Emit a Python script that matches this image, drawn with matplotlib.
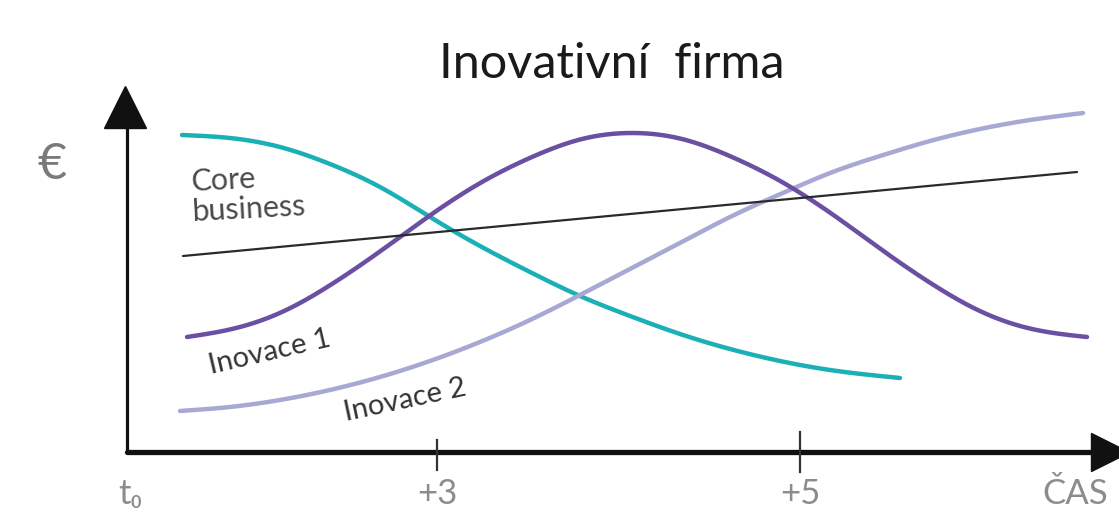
import numpy as np
import matplotlib
matplotlib.use("Agg")
import matplotlib.pyplot as plt

# values (time units along x, money units along y)
teal_x = [0.52, 1.0, 1.5, 2.0, 2.5, 3.05, 3.5, 4.0, 4.5, 5.0, 5.5, 6.0, 6.5, 7.0, 7.7]
teal_y = [3.17, 3.14, 3.05, 2.88, 2.65, 2.32, 2.06, 1.80, 1.56, 1.36, 1.18, 1.03, 0.91, 0.82, 0.74]

inov1_x = [0.57, 1.02, 1.52, 2.02, 2.52, 3.02, 3.52, 4.02, 4.52, 5.02,
           5.52, 6.02, 6.52, 7.02, 7.52, 8.02, 8.52, 9.02, 9.57]
inov1_y = [1.15, 1.23, 1.40, 1.68, 2.02, 2.38, 2.70, 2.95, 3.13, 3.19,
           3.13, 2.95, 2.70, 2.38, 2.02, 1.68, 1.40, 1.23, 1.15]

inov2_x = [0.5, 1.0, 1.5, 2.0, 2.5, 3.0, 3.5, 4.0, 4.5, 5.0, 5.5, 6.0,
           6.62, 7.0, 7.5, 8.0, 8.5, 9.0, 9.53]
inov2_y = [0.41, 0.45, 0.52, 0.62, 0.75, 0.91, 1.10, 1.32, 1.57, 1.83, 2.09, 2.35,
           2.63, 2.79, 2.96, 3.11, 3.23, 3.32, 3.39]

core_x = [0.53, 9.47]
core_y = [1.96, 2.80]

tick_pos = [0.0, 3.07, 6.70, 9.45]
tick_labels = ["t₀", "+3", "+5", "ČAS"]


def spline(xs, ys, n=400):
    # natural cubic spline through the read points
    x = np.asarray(xs, float)
    y = np.asarray(ys, float)
    h = np.diff(x)
    m = len(x)
    A = np.zeros((m, m))
    b = np.zeros(m)
    A[0, 0] = A[-1, -1] = 1
    for i in range(1, m - 1):
        A[i, i - 1] = h[i - 1]
        A[i, i] = 2 * (h[i - 1] + h[i])
        A[i, i + 1] = h[i]
        b[i] = 3 * ((y[i + 1] - y[i]) / h[i] - (y[i] - y[i - 1]) / h[i - 1])
    c = np.linalg.solve(A, b)
    xx = np.linspace(x[0], x[-1], n)
    idx = np.clip(np.searchsorted(x, xx) - 1, 0, m - 2)
    dx = xx - x[idx]
    bb = (y[1:] - y[:-1]) / h - h * (2 * c[:-1] + c[1:]) / 3
    d = (c[1:] - c[:-1]) / (3 * h)
    yy = y[idx] + bb[idx] * dx + c[idx] * dx ** 2 + d[idx] * dx ** 3
    return xx, yy


plt.rcParams['font.family'] = ['Lato', 'DejaVu Sans']

fig = plt.figure(figsize=(11.19, 5.15), dpi=100)
ax = fig.add_axes([0, 0, 1, 1])
ax.set_xlim(-1.30, 9.89)
ax.set_ylim(-0.63, 4.52)
ax.axis('off')

# axes with arrows
ax.plot([-0.03, -0.03], [0, 3.35], color='#111111', lw=2.3, solid_capstyle='round')
ax.plot([-0.05], [3.45], marker='^', ms=30, color='#111111')
ax.plot([-0.03, 9.65], [0, 0], color='#111111', lw=3.8, solid_capstyle='round')
ax.plot([9.80], [0], marker='>', ms=28, color='#111111', clip_on=True)
ax.plot([tick_pos[1]] * 2, [0.12, -0.18], color='#333333', lw=1.6)
ax.plot([tick_pos[2]] * 2, [0.20, -0.20], color='#333333', lw=1.6)

for pos, lab in zip(tick_pos, tick_labels):
    ax.text(pos, -0.42, lab, ha='center', va='center', fontsize=25,
            color='#8c8c8c')

ax.text(-0.78, 2.87, "€", ha='center', va='center', fontsize=36,
        color='#7a7a7a')

ax.text(4.82, 3.88, "Inovativní  firma", ha='center', va='center',
        fontsize=35, color='#1a1a1a')

# curves
x, y = spline(teal_x, teal_y)
ax.plot(x, y, color='#1bb0b6', lw=3.2, solid_capstyle='round')
x, y = spline(inov2_x, inov2_y)
ax.plot(x, y, color='#a8a8d4', lw=3.2, solid_capstyle='round')
x, y = spline(inov1_x, inov1_y)
ax.plot(x, y, color='#6a4fa3', lw=3.2, solid_capstyle='round')
ax.plot(core_x, core_y, color='#2a2a2a', lw=1.6, solid_capstyle='round')

ax.text(0.60, 2.58, "Core\nbusiness", ha='left', va='center', fontsize=22,
        color='#4a4a4a', linespacing=1.1, rotation=3)
ax.text(1.40, 1.00, "Inovace 1", ha='center', va='center', fontsize=21,
        color='#333333', rotation=13)
ax.text(2.75, 0.52, "Inovace 2", ha='center', va='center', fontsize=21,
        color='#333333', rotation=12)

fig.savefig("out.png", dpi=100)
